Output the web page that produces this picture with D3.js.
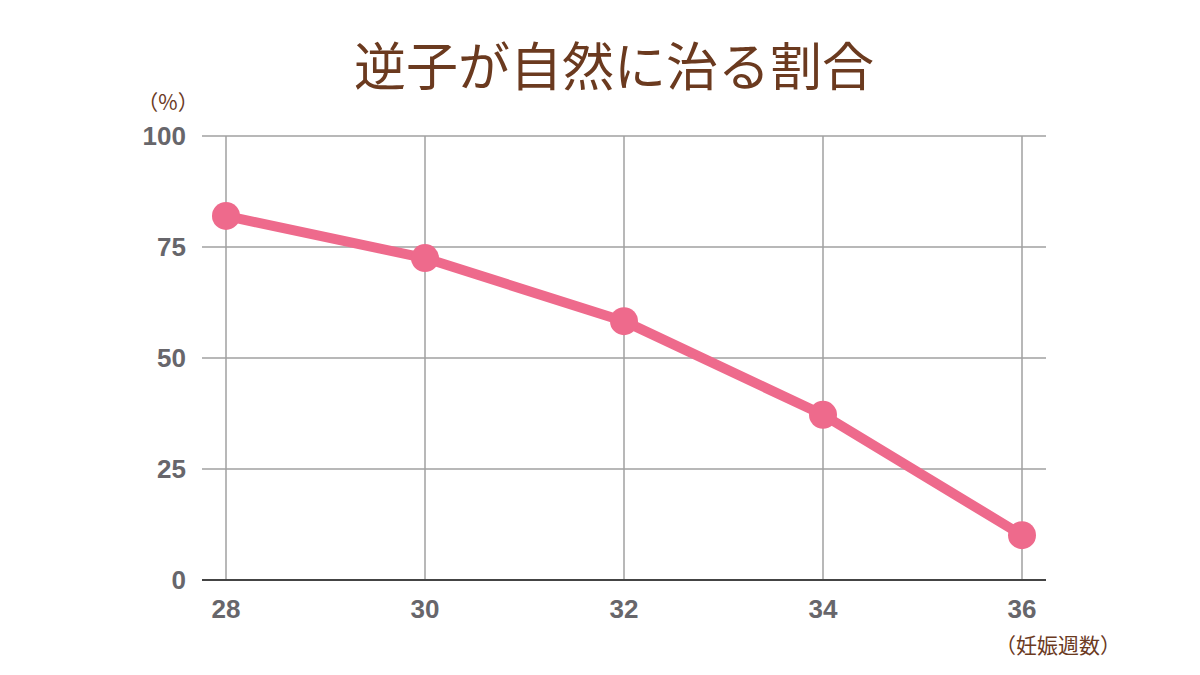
<!DOCTYPE html>
<html lang="ja">
<head>
<meta charset="UTF-8" />
<title>逆子が自然に治る割合</title>
<script src="https://d3js.org/d3.v7.min.js"></script>
<style>
  body { margin: 0; background: #fff; }
  svg { display: block; }
</style>
</head>
<body>
<div id="chart"></div>
<script>
  const weeks = [28, 30, 32, 34, 36];
  const rates = [82, 72.5, 58.3, 37.2, 10.1];
  const yTicks = [0, 25, 50, 75, 100];

  const W = 1200, H = 675;
  const mLeft = 226, mRight = 1022, mTop = 136, mBottom = 580, pad = 24;
  const lineColor = '#ee6a8c';
  const brown = '#6b3a1f';
  const tickColor = '#67666b';

  const svg = d3.select('#chart').append('svg')
    .attr('width', W).attr('height', H);

  const x = d3.scaleLinear().domain([28, 36]).range([mLeft, mRight]);
  const y = d3.scaleLinear().domain([0, 100]).range([mBottom, mTop]);

  // title
  svg.append('text')
    .attr('x', 614).attr('y', 86)
    .attr('text-anchor', 'middle')
    .attr('fill', brown)
    .style('font-family', '"Noto Sans CJK JP", sans-serif')
    .style('font-size', '52px')
    .text('逆子が自然に治る割合');

  // horizontal grid
  svg.append('g').selectAll('line')
    .data(yTicks.filter(d => d > 0))
    .join('line')
    .attr('x1', mLeft - pad).attr('x2', mRight + pad)
    .attr('y1', d => y(d)).attr('y2', d => y(d))
    .attr('stroke', '#a0a0a0').attr('stroke-width', 1.5);

  // vertical grid
  svg.append('g').selectAll('line')
    .data(weeks)
    .join('line')
    .attr('x1', d => x(d)).attr('x2', d => x(d))
    .attr('y1', y(100)).attr('y2', y(0))
    .attr('stroke', '#a0a0a0').attr('stroke-width', 1.5);

  // baseline
  svg.append('line')
    .attr('x1', mLeft - pad).attr('x2', mRight + pad)
    .attr('y1', y(0)).attr('y2', y(0))
    .attr('stroke', '#444').attr('stroke-width', 2);

  // y tick labels
  svg.append('g').selectAll('text')
    .data(yTicks)
    .join('text')
    .attr('x', 186).attr('y', d => y(d))
    .attr('dy', '0.36em')
    .attr('text-anchor', 'end')
    .attr('fill', tickColor)
    .style('font-family', '"Liberation Sans", Arial, sans-serif')
    .style('font-weight', 'bold')
    .style('font-size', '26px')
    .text(d => d);

  // x tick labels
  svg.append('g').selectAll('text')
    .data(weeks)
    .join('text')
    .attr('x', d => x(d)).attr('y', 618)
    .attr('text-anchor', 'middle')
    .attr('fill', tickColor)
    .style('font-family', '"Liberation Sans", Arial, sans-serif')
    .style('font-weight', 'bold')
    .style('font-size', '26px')
    .text(d => d);

  // unit labels
  svg.append('text')
    .attr('x', 168).attr('y', 110)
    .attr('text-anchor', 'middle')
    .attr('fill', brown)
    .style('font-family', '"Noto Sans CJK JP", sans-serif')
    .style('font-size', '21px')
    .text('（%）');

  svg.append('text')
    .attr('x', 1058).attr('y', 653)
    .attr('text-anchor', 'middle')
    .attr('fill', brown)
    .style('font-family', '"Noto Sans CJK JP", sans-serif')
    .style('font-size', '21px')
    .text('（妊娠週数）');

  // line
  const data = weeks.map((w, i) => ({ w, r: rates[i] }));
  svg.append('path')
    .datum(data)
    .attr('d', d3.line().x(d => x(d.w)).y(d => y(d.r)))
    .attr('fill', 'none')
    .attr('stroke', lineColor)
    .attr('stroke-width', 10)
    .attr('stroke-linejoin', 'round');

  svg.append('g').selectAll('circle')
    .data(data)
    .join('circle')
    .attr('cx', d => x(d.w)).attr('cy', d => y(d.r))
    .attr('r', 14)
    .attr('fill', lineColor);
</script>
</body>
</html>
